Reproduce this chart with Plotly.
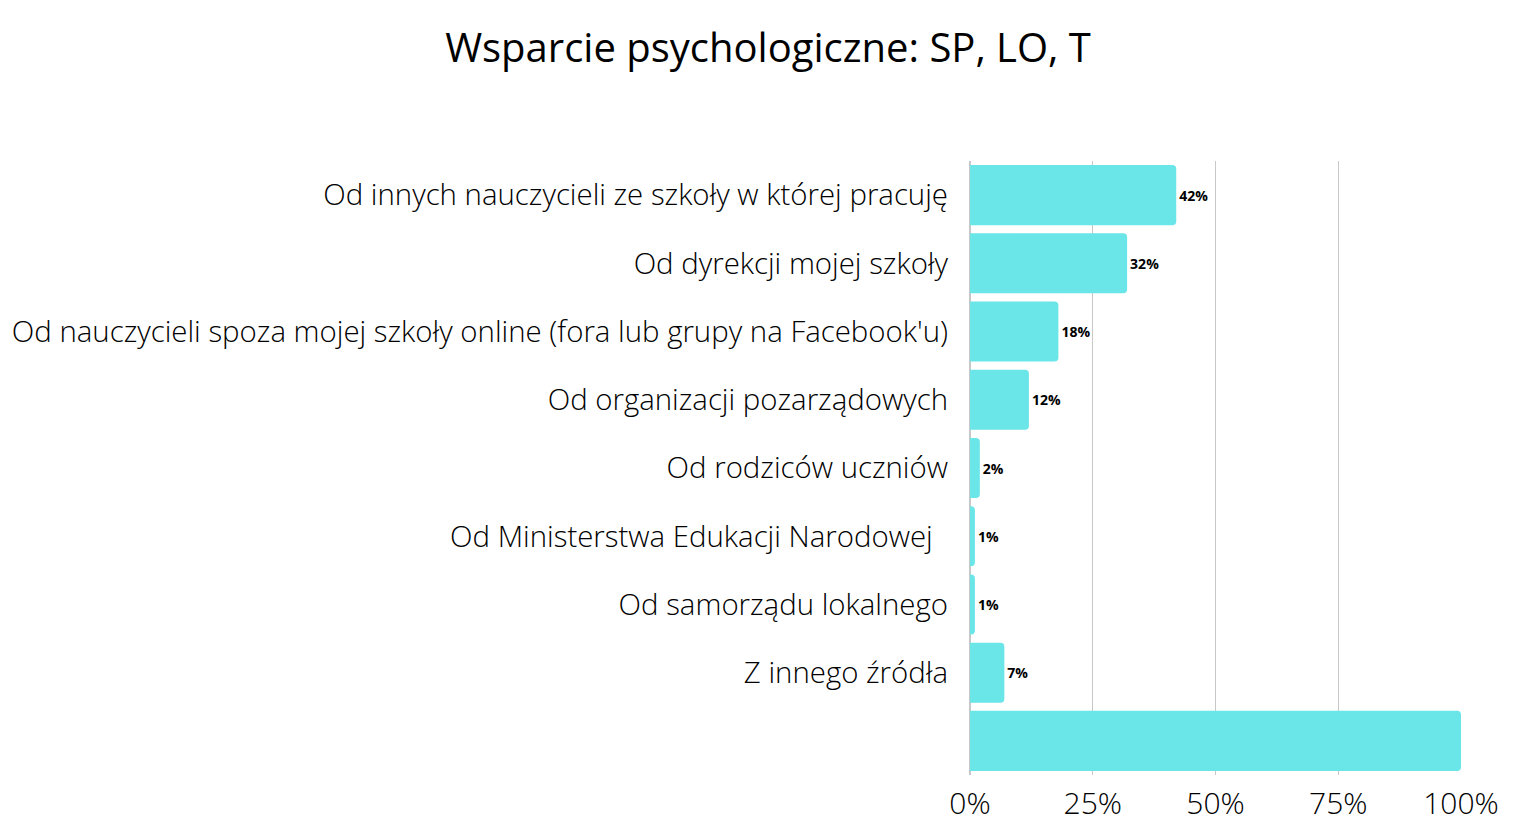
import plotly.graph_objects as go

categories = [
    "Od innych nauczycieli ze szkoły w której pracuję",
    "Od dyrekcji mojej szkoły",
    "Od nauczycieli spoza mojej szkoły online (fora lub grupy na Facebook'u)",
    "Od organizacji pozarządowych",
    "Od rodziców uczniów",
    "Od Ministerstwa Edukacji Narodowej\u00a0\u00a0",
    "Od samorządu lokalnego",
    "Z innego źródła",
    "\u00a0",
]
values = [42, 32, 18, 12, 2, 1, 1, 7, 100]
labels = ["42%", "32%", "18%", "12%", "2%", "1%", "1%", "7%", ""]
x_ticks = [0, 25, 50, 75, 100]
x_ticktext = ["0%", "25%", "50%", "75%", "100%"]

fig = go.Figure(
    go.Bar(
        y=categories,
        x=values,
        orientation="h",
        marker=dict(color="#6ae5e8", line=dict(width=0)),
        text=labels,
        textposition="outside",
        cliponaxis=False,
        textfont=dict(family="Open Sans", size=14, color="#000000", weight=700),
    )
)

fig.update_layout(
    width=1536,
    height=838,
    paper_bgcolor="white",
    plot_bgcolor="white",
    margin=dict(l=962, r=83, t=153, b=71),
    bargap=0.12,
    barcornerradius=4,
    showlegend=False,
    font=dict(family="Open Sans", weight=300, color="#000000"),
    title=dict(
        text="Wsparcie psychologiczne: SP, LO, T",
        x=0.4948,
        xanchor="center",
        y=0.952,
        yanchor="middle",
        font=dict(family="Open Sans", size=40, weight=400, color="#000000"),
    ),
    xaxis=dict(
        range=[0, 100],
        tickvals=x_ticks,
        ticktext=x_ticktext,
        showgrid=True,
        gridcolor="#c8c8c8",
        gridwidth=1,
        zeroline=True,
        zerolinecolor="#c8c8c8",
        tickfont=dict(family="Open Sans", size=30, weight=300),
        ticks="",
        ticklabelstandoff=8,
        automargin=False,
    ),
    yaxis=dict(
        categoryorder="array",
        categoryarray=categories,
        autorange="reversed",
        tickfont=dict(family="Open Sans", size=29.4, weight=300),
        ticks="",
        ticklabelstandoff=21,
        showgrid=False,
        automargin=False,
    ),
)

fig.write_html("out.html")
